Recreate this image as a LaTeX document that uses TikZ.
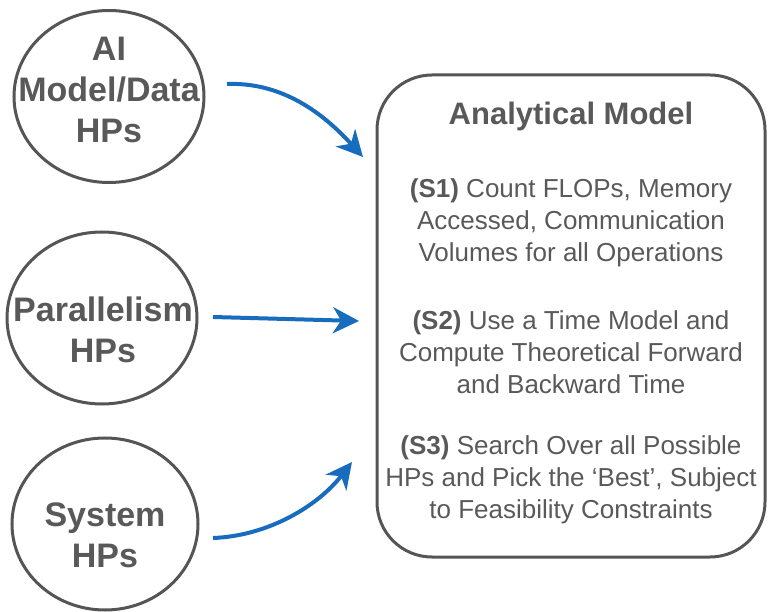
\documentclass[tikz,border=0pt]{standalone}
\usepackage{fontspec}
\setmainfont{Liberation Sans}
\usetikzlibrary{shapes.geometric,arrows.meta}
\definecolor{txtgray}{RGB}{89,89,89}
\definecolor{linegray}{RGB}{85,85,85}
\definecolor{arrblue}{RGB}{24,108,190}
\tikzset{
  hpcircle/.style={ellipse, draw=linegray, line width=3pt, minimum width=190pt, minimum height=172pt, inner sep=0pt},
  hptext/.style={text=txtgray, font=\fontsize{34}{41}\selectfont\bfseries, align=center, inner sep=0pt},
  boxtitle/.style={text=txtgray, font=\fontsize{31}{37}\selectfont\bfseries, align=center, inner sep=0pt},
  boxtext/.style={text=txtgray, font=\fontsize{26}{32}\selectfont, align=center, inner sep=0pt},
  flow/.style={draw=arrblue, line width=4pt, -{Stealth[length=26pt,width=26pt,inset=8pt]}}
}
\begin{document}
\begin{tikzpicture}[x=1pt,y=-1pt]
\useasboundingbox (0,0) rectangle (769,612);
% circles
\node[hpcircle] (c1) at (109,96.5) {};
\node[hpcircle] (c2) at (102,318) {};
\node[hpcircle, minimum width=186pt] (c3) at (105,524) {};
\node[hptext] (t1) at (109,90) {AI\\Model/Data\\HPs};
\node[hptext] (t2) at (103,330) {Parallelism\\HPs};
\node[hptext] (t3) at (105,535) {System\\HPs};
% box
\draw[linegray, line width=3pt, rounded corners=55pt] (377,75) rectangle (765,557);
\node[boxtitle] (title) at (571,116) {Analytical Model};
\node[boxtext] (s1) at (571,223) {\textbf{(S1)} Count FLOPs, Memory\\Accessed, Communication\\Volumes for all Operations};
\node[boxtext] (s2) at (571,352) {\textbf{(S2)} Use a Time Model and\\Compute Theoretical Forward\\and Backward Time};
\node[boxtext] (s3) at (571,480) {\textbf{(S3)} Search Over all Possible\\HPs and Pick the ‘Best’, Subject\\to Feasibility Constraints};
% arrows
\coordinate (a1s) at (227,84);
\coordinate (a1e) at (363,157);
\coordinate (a2s) at (213,317);
\coordinate (a2e) at (359,321);
\coordinate (a3s) at (213,538);
\coordinate (a3e) at (352,462);
\draw[flow] (a1s) .. controls (282,82) and (323,113) .. (a1e);
\draw[flow] (a2s) -- (a2e);
\draw[flow] (a3s) .. controls (268,536) and (318,506) .. (a3e);
\end{tikzpicture}
\end{document}
